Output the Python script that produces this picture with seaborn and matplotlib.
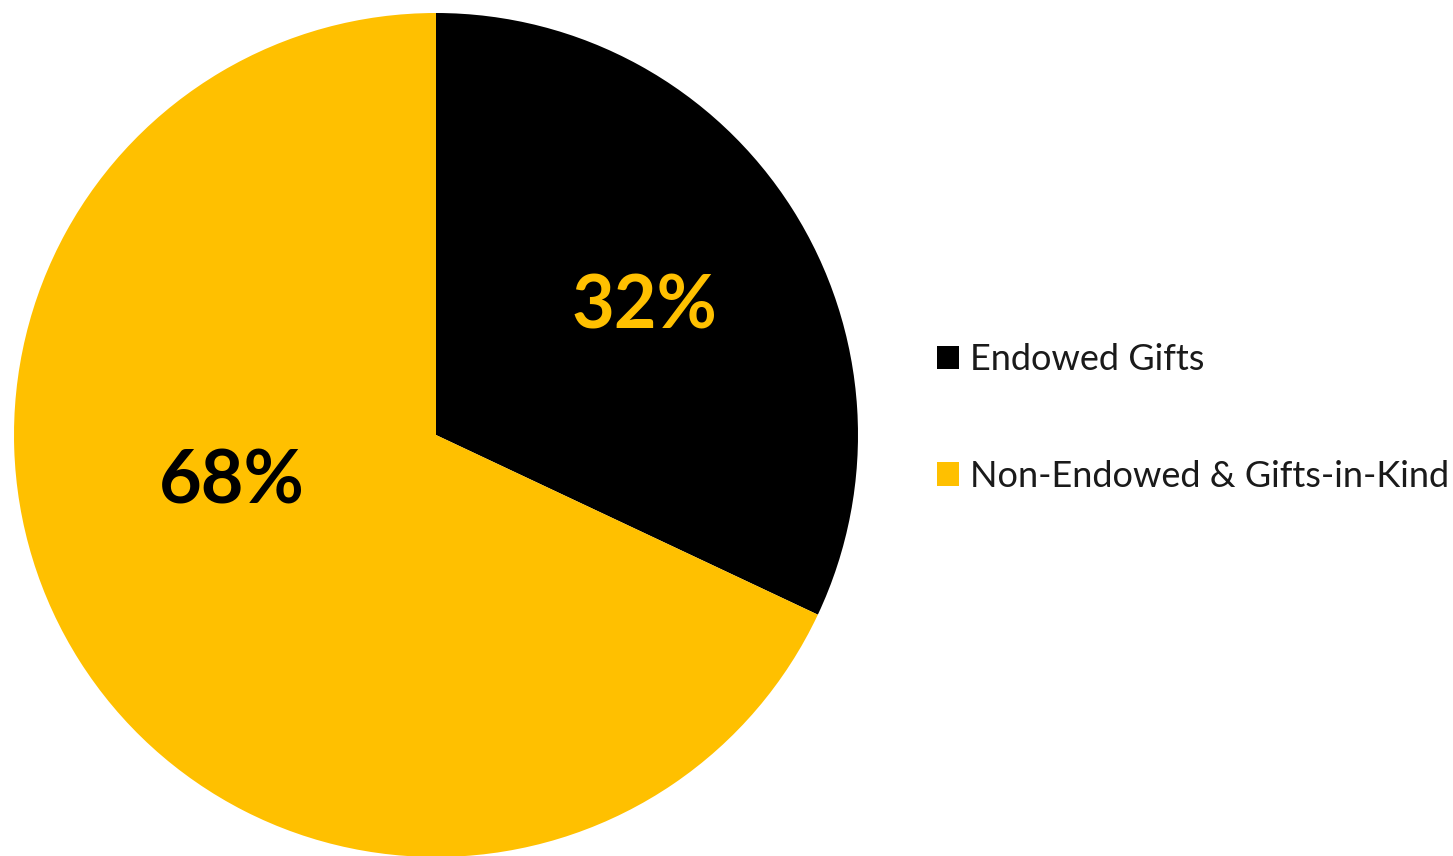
import matplotlib
matplotlib.use("Agg")
import matplotlib.pyplot as plt
import seaborn as sns
from matplotlib.patches import Patch

categories = ["Endowed Gifts", "Non-Endowed & Gifts-in-Kind"]
shares = [32, 68]
palette = sns.color_palette(["#000000", "#FFC000"])
label_colors = ["#FFC000", "#000000"]

sns.set_theme(style="white")
plt.rcParams["font.family"] = ["Lato", "DejaVu Sans"]

fig = plt.figure(figsize=(14.53, 8.56), dpi=100)
ax = fig.add_axes([14 / 1453, -1 / 856, 844 / 1453, 844 / 856])

wedges, _ = ax.pie(shares, colors=palette, startangle=90, counterclock=False,
                   radius=1.0, wedgeprops=dict(linewidth=0))
ax.set_xlim(-1, 1)
ax.set_ylim(-1, 1)
ax.set_aspect("equal")
ax.axis("off")

label_pos = [(0.495, 0.303), (-0.483, -0.111)]
for val, (x, y), c in zip(shares, label_pos, label_colors):
    ax.text(x, y, f"{val}%", ha="center", va="center", fontsize=53,
            fontweight="bold", color=c)

handles = [Patch(facecolor=col, edgecolor="none") for col in palette]
fig.legend(handles, categories, loc="center left",
           bbox_to_anchor=(904 / 1453, 1 - 418 / 856), frameon=False,
           fontsize=26, handlelength=0.62, handleheight=0.62,
           handletextpad=0.3, labelspacing=2.32, labelcolor="#1a1a1a")

fig.savefig("out.png", dpi=100, facecolor="white")
